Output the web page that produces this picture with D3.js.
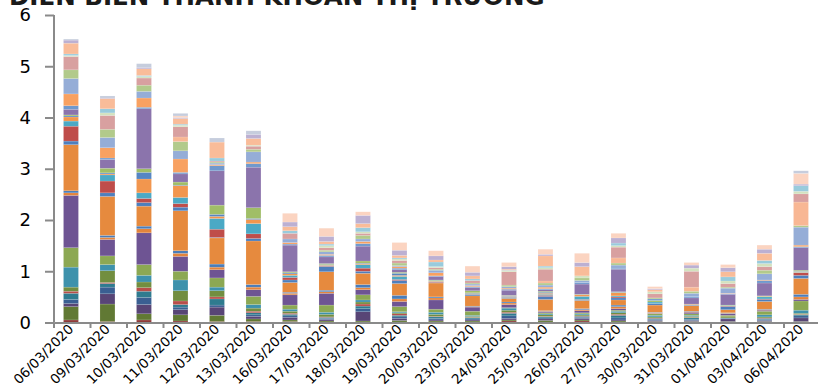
<!DOCTYPE html>
<html>
<head>
<meta charset="utf-8">
<script src="https://cdn.jsdelivr.net/npm/d3@7/dist/d3.min.js"></script>
<style>
  html, body { margin: 0; padding: 0; background: #fff; }
  svg { display: block; }
</style>
</head>
<body>
<svg id="chart" width="818" height="388"></svg>
<script>
// Trading dates (categories)
const dates = ["06/03/2020","09/03/2020","10/03/2020","11/03/2020","12/03/2020","13/03/2020",
  "16/03/2020","17/03/2020","18/03/2020","19/03/2020","20/03/2020","23/03/2020","24/03/2020",
  "25/03/2020","26/03/2020","27/03/2020","30/03/2020","31/03/2020","01/04/2020","03/04/2020","06/04/2020"];

// Y axis tick labels
const yTicks = [0, 1, 2, 3, 4, 5, 6];

// Matched value per stock for each session, stacked bottom to top (32 stocks)
const v0603 = [0.05,0.26,0.06,0.08,0.12,0.04,0.08,0.39,0.38,1.02, 0.05,0.04,0.90,0.07,0.29,0.10,0.08,0.02,0.02,0.11, 0.07,0.23,0.30,0.17,0,0.26,0.02,0.03,0.21,0.06, 0,0.02];
const v0903 = [0.02,0.34,0.20,0.13,0.07,0.02,0.23,0.12,0.17,0.32, 0.04,0.04,0.76,0.07,0.23,0.12,0.02,0.02,0.09,0.17, 0.03,0.20,0.20,0.16,0,0.27,0.05,0.08,0.20,0.01, 0,0.04];
const v1003 = [0.05,0.12,0.18,0.14,0.12,0.07,0.11,0.13,0.21,0.62, 0.08,0.05,0.39,0.07,0.08,0.11,0.27,0.13,0.07,1.17, 0.03,0.18,0.13,0.12,0,0.14,0.03,0.02,0.13,0.02, 0,0.08];
const v1103 = [0.03,0.12,0.10,0.05,0.05,0.07,0.20,0.21,0.17,0.29, 0.06,0.05,0.78,0.07,0.07,0.12,0.23,0.01,0.06,0.16, 0.03,0.26,0.16,0.18,0.09,0.20,0.03,0.02,0.11,0.02, 0.03,0.05];
const v1203 = [0.02,0.12,0.16,0.04,0.12,0.04,0.12,0.07,0.18,0.16, 0.05,0.06,0.51,0.01,0.16,0.21,0.04,0.04,0.18,0.67, 0.10,0.02,0.03,0.02,0,0.02,0,0.06,0.31,0, 0,0.08];
const v1303 = [0.02,0.05,0.05,0.03,0.04,0.03,0.06,0.07,0.16,0.13, 0.05,0.05,0.85,0.05,0.09,0.20,0.08,0.02,0.21,0.79, 0.07,0.03,0.20,0.05,0,0.06,0.02,0,0.13,0.08, 0,0.07];
const v1603 = [0.02,0.03,0.05,0.03,0.03,0.02,0.04,0.04,0.08,0.20, 0.03,0.02,0.19,0.05,0.05,0.04,0.03,0.02,0.02,0.52, 0.02,0.03,0.07,0,0,0.11,0,0.05,0.08,0.09, 0.17,0];
const v1703 = [0.01,0.02,0.03,0.02,0.02,0.01,0.05,0.04,0.14,0.23, 0.03,0.03,0.36,0.10,0.01,0.01,0.01,0.01,0.02,0.13, 0.03,0.02,0.05,0.03,0,0.05,0.04,0.03,0.05,0.10, 0.16,0];
const v1803 = [0.01,0.02,0.18,0.06,0.05,0.04,0.04,0.04,0.10,0.10, 0.04,0.06,0.22,0.04,0.06,0.07,0.02,0.01,0.04,0.29, 0.05,0.04,0.05,0.07,0,0.04,0.03,0.08,0.08,0.16, 0.07,0];
const v1903 = [0.01,0.03,0.04,0.03,0.03,0.03,0.02,0.02,0.10,0.10, 0.05,0.07,0.23,0.06,0.02,0.06,0.02,0.04,0.02,0.05, 0.03,0.03,0.02,0.05,0,0.05,0.03,0.02,0.05,0.10, 0.15,0];
const v2003 = [0.01,0.02,0.02,0.03,0.03,0.01,0.04,0.04,0.06,0.18, 0.04,0.02,0.27,0.01,0.01,0.01,0.01,0.01,0.01,0.07, 0.01,0.06,0.05,0.02,0,0.03,0.02,0.09,0.04,0.08, 0.10,0];
const v2303 = [0.01,0.02,0.02,0.02,0.02,0.01,0.02,0.02,0.08,0.08, 0.01,0.01,0.20,0.02,0.01,0.02,0.01,0,0.04,0.06, 0.02,0.02,0.03,0.02,0,0.05,0,0.03,0.06,0.07, 0.12,0];
const v2403 = [0.03,0.02,0.03,0.05,0.05,0.02,0.04,0.04,0.01,0.06, 0.03,0.02,0.07,0.01,0.01,0.01,0.01,0.01,0.01,0.10, 0.02,0.02,0.03,0.03,0,0.26,0.02,0.01,0.02,0.05, 0.08,0];
const v2503 = [0.01,0.03,0.03,0.02,0.02,0.01,0.03,0.02,0.02,0.02, 0.01,0.01,0.22,0.06,0.02,0.02,0.02,0.02,0.02,0.03, 0.02,0.03,0.04,0.04,0.04,0.23,0.03,0.03,0.20,0.03, 0.10,0];
const v2603 = [0.03,0.02,0.03,0.02,0.02,0.01,0.02,0.02,0.02,0.04, 0.02,0.02,0.16,0.01,0.01,0.06,0.03,0,0.01,0.20, 0.03,0,0.04,0.05,0,0,0.04,0,0.18,0.08, 0.18,0];
const v2703 = [0.01,0.02,0.02,0.04,0.05,0.02,0.03,0.03,0.02,0.03, 0.04,0.03,0.10,0.04,0.02,0.02,0.06,0.01,0.01,0.44, 0.02,0,0.06,0.04,0.10,0.21,0.03,0.05,0,0.10, 0.09,0];
const v3003 = [0.01,0.01,0.02,0.02,0.02,0.01,0.02,0.03,0.03,0.01, 0.01,0.01,0.14,0.03,0,0.03,0,0,0.03,0, 0.03,0,0,0.02,0,0.08,0.04,0,0.04,0.02, 0.04,0];
const v3103 = [0.01,0.01,0.02,0.02,0.03,0.01,0.02,0.02,0.03,0.03, 0.01,0.01,0.11,0.01,0,0.01,0.01,0,0,0.12, 0.03,0,0.06,0.04,0.08,0.31,0.06,0,0,0.06, 0.05,0];
const v0104 = [0.01,0.01,0.05,0.01,0.01,0,0.02,0,0.03,0.03, 0.01,0.01,0.06,0.06,0.01,0.01,0,0,0.01,0.21, 0.01,0.01,0.10,0.02,0,0.07,0.05,0.08,0.10,0.08, 0.06,0];
const v0304 = [0.01,0.01,0.02,0.02,0.02,0.01,0.02,0.04,0.07,0.02, 0.01,0.01,0.15,0.04,0.01,0.04,0.01,0,0.01,0.25, 0.05,0.01,0.12,0.07,0,0.07,0.06,0.06,0.14,0.08, 0.08,0];
const v0604 = [0.01,0.01,0.07,0.04,0.02,0.01,0.02,0.06,0.18,0.03, 0.05,0.05,0.31,0.06,0.05,0.01,0.01,0.01,0.02,0.44, 0.02,0.03,0.35,0.03,0.46,0.16,0.05,0.11,0,0.03, 0.21,0.05];

const sessions = [v0603,v0903,v1003,v1103,v1203,v1303,v1603,v1703,v1803,v1903,v2003,
  v2303,v2403,v2503,v2603,v2703,v3003,v3103,v0104,v0304,v0604];

// One fill per stacked stock, bottom to top
const palette = ["#8E3B39","#617934","#584576","#3A5F92","#2F7B8F","#B84E4A","#728E40","#3E92AC",
  "#8CA853","#6E5493","#E3843C","#4A7DBA","#E68A3E","#4E7FBD","#BF4D4A","#4BA9C5",
  "#F2964E","#5686C3","#A0BE67","#8B74AC","#7099CD","#F8A161","#95ADD7","#B2CA8B",
  "#F8B794","#D8A0A0","#D3E2BF","#99CBDC","#F9BC99","#BCB0D2","#FBD4C1","#C6CDDD"];

const keys = palette.map((_, k) => "m" + k);
const rows = dates.map((d, i) => {
  const row = { date: d };
  sessions[i].forEach((v, k) => { row[keys[k]] = v; });
  return row;
});

const svg = d3.select("#chart");
const axisColor = "#8A8A8A";

const x = d3.scaleBand().domain(dates).range([54, 820.5]).padding(0);
const y = d3.scaleLinear().domain([0, 6]).range([322.5, 15]);

const barW = x.bandwidth() * 0.41;
const barOff = x.bandwidth() * 0.26;

// Title (partly above the visible area)
svg.append("text")
  .attr("x", 9).attr("y", 5)
  .attr("font-family", "DejaVu Sans, Verdana, sans-serif")
  .attr("font-weight", "bold")
  .attr("font-size", 24.5)
  .attr("fill", "#1a1a1a")
  .text("DIỄN BIẾN THANH KHOẢN THỊ TRƯỜNG");

// Stacked bars
const stacked = d3.stack().keys(keys)(rows);
svg.append("g")
  .selectAll("g")
  .data(stacked)
  .join("g")
  .attr("fill", (s, k) => palette[k])
  .selectAll("rect")
  .data(s => s)
  .join("rect")
  .attr("x", d => x(d.data.date) + barOff)
  .attr("width", barW)
  .attr("y", d => y(d[1]))
  .attr("height", d => Math.max(0, y(d[0]) - y(d[1])))
  .attr("stroke", "#ffffff")
  .attr("stroke-opacity", 0.25)
  .attr("stroke-width", 0.5);

// Y axis
const yAxis = svg.append("g")
  .attr("transform", "translate(54,0)")
  .call(d3.axisLeft(y).tickValues(yTicks).tickFormat(d3.format("d")).tickSize(9).tickPadding(14));
yAxis.select(".domain").attr("stroke", axisColor).attr("stroke-width", 2).attr("d", "M0,322.5V15");
yAxis.selectAll(".tick line").attr("stroke", axisColor).attr("stroke-width", 2);
yAxis.selectAll(".tick text")
  .attr("font-family", "DejaVu Sans, Verdana, sans-serif")
  .attr("font-size", 18)
  .attr("fill", "#000");

// X axis: baseline, boundary ticks, rotated date labels
const xAxis = svg.append("g")
  .attr("transform", "translate(0,322.5)")
  .call(d3.axisBottom(x).tickSize(0).tickPadding(0));
xAxis.select(".domain").attr("stroke", axisColor).attr("stroke-width", 2);
xAxis.selectAll(".tick text")
  .attr("font-family", "DejaVu Sans, Verdana, sans-serif")
  .attr("font-size", 13.5)
  .attr("fill", "#000")
  .attr("text-anchor", "end")
  .attr("dy", null)
  .attr("y", 0)
  .attr("transform", "translate(2,7.5) rotate(-45)");

const bounds = dates.map(d => x(d)).concat([x.range()[1]]);
svg.append("g")
  .selectAll("line")
  .data(bounds)
  .join("line")
  .attr("x1", d => d).attr("x2", d => d)
  .attr("y1", 322.5).attr("y2", 328)
  .attr("stroke", axisColor)
  .attr("stroke-width", 2);
</script>
</body>
</html>
